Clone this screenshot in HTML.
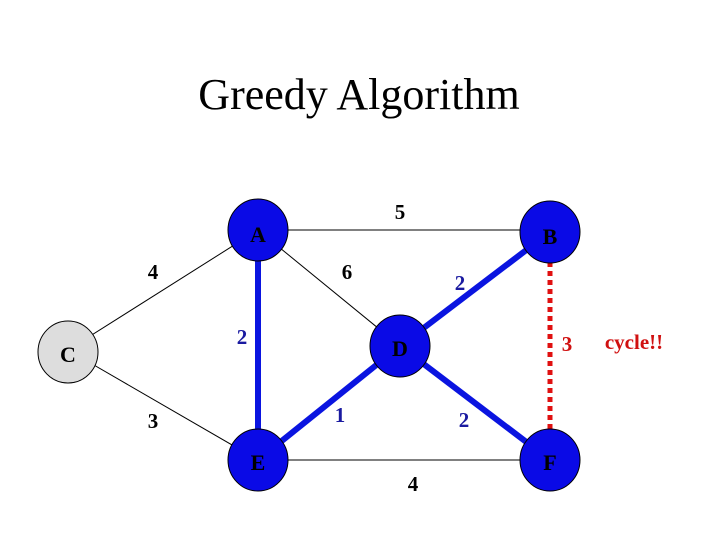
<!DOCTYPE html>
<html><head><style>body{margin:0;background:#fff}svg{display:block}</style></head><body>
<svg width="720" height="540" viewBox="0 0 720 540" xmlns="http://www.w3.org/2000/svg" font-family="Liberation Serif, serif">
<text x="359" y="109" font-size="44" text-anchor="middle">Greedy Algorithm</text>
<g stroke="#000" stroke-width="1">
<line x1="258" y1="230" x2="550" y2="230"/>
<line x1="258" y1="460" x2="550" y2="460"/>
<line x1="68" y1="350" x2="258" y2="230"/>
<line x1="68" y1="350" x2="258" y2="460"/>
<line x1="258" y1="230" x2="400" y2="346"/>
</g>
<g stroke="#0a14e0" stroke-width="6">
<line x1="258" y1="240" x2="258" y2="450"/>
<line x1="258" y1="460" x2="400" y2="346"/>
<line x1="400" y1="346" x2="550" y2="232"/>
<line x1="400" y1="346" x2="550" y2="460"/>
</g>
<line x1="550" y1="262" x2="550" y2="432" stroke="#e01010" stroke-width="5" stroke-dasharray="5,4"/>
<g fill="#0a0ae6" stroke="#000" stroke-width="1">
<ellipse cx="258" cy="230" rx="30" ry="31"/>
<ellipse cx="550" cy="232" rx="30" ry="31"/>
<ellipse cx="400" cy="346" rx="30" ry="31"/>
<ellipse cx="258" cy="460" rx="30" ry="31"/>
<ellipse cx="550" cy="460" rx="30" ry="31"/>
</g>
<ellipse cx="68" cy="352" rx="30" ry="31" fill="#ddd" stroke="#000"/>
<g font-size="22" text-anchor="middle" font-weight="bold" fill="#000">
<text x="258" y="242">A</text><text x="550" y="244">B</text><text x="68" y="362">C</text>
<text x="400" y="356">D</text><text x="258" y="470">E</text><text x="550" y="470">F</text>
</g>
<g font-size="21" text-anchor="middle" font-weight="bold">
<text x="400" y="219">5</text><text x="153" y="279">4</text><text x="347" y="279">6</text>
<text x="153" y="428">3</text><text x="413" y="491">4</text>
<g fill="#1a1aa0"><text x="460" y="290">2</text><text x="242" y="344">2</text><text x="340" y="422">1</text><text x="464" y="427">2</text></g>
<g fill="#d01010"><text x="567" y="351">3</text><text x="634" y="349">cycle!!</text></g>
</g>
</svg>
</body></html>
